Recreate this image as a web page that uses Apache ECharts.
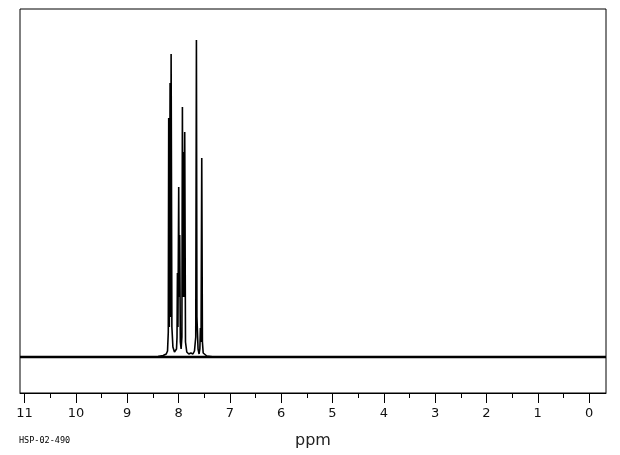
<!DOCTYPE html>
<html><head><meta charset="utf-8">
<script src="https://cdn.jsdelivr.net/npm/echarts@6/dist/echarts.min.js"></script>
<style>html,body{margin:0;padding:0;background:#fff}#c{width:620px;height:455px}</style>
</head><body><div id="c"></div>
<script>
// Spectrum points: chemical shift (ppm) and intensity
const shiftPpm = [11.09, 9.0, 8.40, 8.30, 8.24, 8.215, 8.200, 8.192, 8.180, 8.165, 8.155, 8.145, 8.130, 8.110, 8.08, 8.06, 8.04, 8.030, 8.022, 8.012, 7.997, 7.988, 7.978, 7.965, 7.950, 7.935, 7.925, 7.915, 7.905, 7.893, 7.880, 7.865, 7.84, 7.80, 7.76, 7.72, 7.69, 7.665, 7.652, 7.642, 7.632, 7.62, 7.60, 7.585, 7.574, 7.562, 7.548, 7.535, 7.52, 7.49, 7.45, 7.3, 5.0, -0.33];
const intensity = [0, 0, 0.5, 1.5, 3, 6, 25, 239, 30, 274, 40, 303, 30, 10, 5, 4, 8, 20, 84, 30, 170, 60, 122, 15, 8, 20, 250, 60, 205, 60, 225, 15, 5, 3, 4, 3, 6, 20, 317, 40, 39, 8, 3, 8, 29, 15, 199, 15, 4, 2, 1, 0, 0, 0];
const majorTicks = [11, 10, 9, 8, 7, 6, 5, 4, 3, 2, 1, 0];
const minorTicks = [10.5, 9.5, 8.5, 7.5, 6.5, 5.5, 4.5, 3.5, 2.5, 1.5, 0.5];
const xRange = [-0.33, 11.09];
const yRange = [-36, 348];
const axisName = 'ppm';
const footnote = 'HSP-02-490';

const spectrum = shiftPpm.map((p, i) => [p, intensity[i]]);
const chart = echarts.init(document.getElementById('c'), null, {renderer: 'canvas'});
const font = 'DejaVu Sans';
chart.setOption({
  animation: false,
  grid: {left: 20, right: 14, top: 9, bottom: 62, show: true, borderColor: '#000', borderWidth: 1, backgroundColor: 'transparent'},
  xAxis: [{
    type: 'value', inverse: true, min: xRange[0], max: xRange[1],
    position: 'bottom',
    name: axisName, nameLocation: 'middle', nameGap: 40,
    nameTextStyle: {fontFamily: font, fontSize: 16, color: '#222'},
    axisLine: {show: true, onZero: false, lineStyle: {color: '#000', width: 1}},
    axisTick: {show: true, length: 10, customValues: majorTicks, lineStyle: {color: '#000', width: 1}},
    axisLabel: {show: true, customValues: majorTicks, margin: 14, fontFamily: font, fontSize: 13, color: '#111'},
    splitLine: {show: false}
  }, {
    type: 'value', inverse: true, min: xRange[0], max: xRange[1],
    position: 'bottom',
    axisLine: {show: false, onZero: false},
    axisTick: {show: true, length: 5, customValues: minorTicks, lineStyle: {color: '#000', width: 1}},
    axisLabel: {show: false},
    splitLine: {show: false}
  }],
  yAxis: {type: 'value', min: yRange[0], max: yRange[1], show: false, splitLine: {show: false}},
  series: [{
    type: 'line', data: [[xRange[1], 0], [xRange[0], 0]], symbol: 'none', silent: true,
    lineStyle: {color: '#000', width: 2.5}
  }, {
    type: 'line', data: spectrum, symbol: 'none', silent: true,
    lineStyle: {color: '#000', width: 1.6}
  }],
  graphic: [{
    type: 'text', left: 19, top: 436,
    style: {text: footnote, fontFamily: 'DejaVu Sans Mono', fontSize: 8.5, fill: '#000'}
  }]
});
</script>
</body></html>
